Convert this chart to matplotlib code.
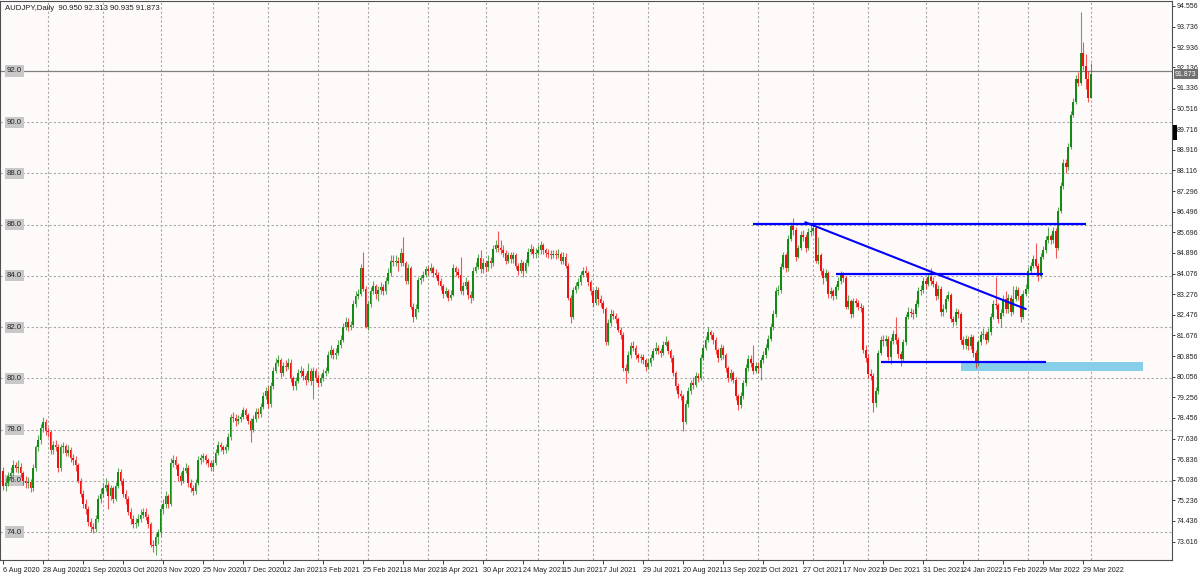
import matplotlib
matplotlib.use('Agg')
import matplotlib.pyplot as plt
import matplotlib.transforms as mtransforms
from matplotlib.patches import Rectangle

plt.rcParams['font.family'] = ['Liberation Sans', 'DejaVu Sans']

TITLE = 'AUDJPY,Daily  90.950 92.313 90.935 91.873'
FIRST_OPEN = 76.40
BID = 91.873

# daily closes, highs, lows, open = previous close
close = [
    75.80, 75.90, 76.20, 76.30, 76.60, 76.50, 76.55, 76.30, 76.00, 75.90,
    75.95, 75.70, 76.50, 77.30, 77.60, 78.05, 78.30, 77.95, 77.90, 77.20,
    77.40, 77.30, 76.50, 77.30, 77.35, 77.10, 77.20, 76.90, 76.80, 76.60,
    76.00, 75.50, 75.10, 74.90, 74.40, 74.20, 74.10, 74.50, 75.30, 75.50,
    75.70, 75.85, 75.40, 75.70, 75.30, 75.80, 76.35, 76.00, 75.50, 75.30,
    74.80, 74.50, 74.30, 74.35, 74.50, 74.65, 74.80, 74.60, 74.30, 73.50,
    73.45, 73.80, 74.00, 74.90, 75.10, 75.40, 75.10, 76.70, 76.80, 76.60,
    76.20, 76.00, 76.40, 76.50, 75.90, 75.70, 75.60, 75.90, 76.80, 76.90,
    76.95, 76.80, 76.70, 76.55, 76.70, 77.10, 77.40, 77.30, 77.20, 77.30,
    77.70, 78.50, 78.45, 78.35, 78.40, 78.50, 78.75, 78.55, 78.35, 78.00,
    78.40, 78.70, 78.60, 78.90, 79.30, 79.50, 79.00, 79.70, 80.30, 80.60,
    80.70, 80.20, 80.50, 80.45, 80.60, 80.00, 79.70, 79.90, 80.20, 80.30,
    80.10, 79.95, 80.30, 79.90, 80.30, 80.00, 79.80, 80.00, 80.20, 80.30,
    80.90, 81.10, 80.90, 81.00, 81.30, 81.50, 82.00, 82.20, 82.00, 82.10,
    82.90, 83.20, 83.30, 84.30, 83.50, 82.00, 82.90, 83.40, 83.60, 83.30,
    83.45, 83.55, 83.40, 83.80, 84.10, 84.60, 84.55, 84.60, 84.50, 84.90,
    84.50, 83.80, 84.30, 82.80, 82.40, 82.70, 83.85, 83.90, 84.05, 84.25,
    84.20, 84.30, 84.10, 84.05, 83.80, 83.60, 83.30, 83.40, 83.15, 83.25,
    84.30, 84.15, 84.05, 83.40, 83.60, 83.75, 83.25, 83.15, 84.20, 84.35,
    84.70, 84.25, 84.50, 84.35, 84.60, 84.50, 85.05, 85.20, 85.10, 85.00,
    84.90, 84.60, 84.80, 84.65, 84.80, 84.40, 84.20, 84.50, 84.20, 84.50,
    84.95, 85.05, 84.85, 84.90, 85.00, 85.20, 85.00, 84.90, 84.85, 84.80,
    84.85, 84.80, 84.85, 84.60, 84.75, 84.40, 83.15, 82.40, 83.45, 83.60,
    83.75, 84.05, 84.20, 84.10, 83.75, 83.40, 82.95, 83.45, 83.10, 82.95,
    82.70, 81.40, 82.15, 82.50, 82.45, 82.30, 81.90, 81.70, 80.40, 80.30,
    80.90, 81.25, 81.20, 80.90, 80.80, 80.85, 80.70, 80.45, 80.60, 80.80,
    81.05, 81.20, 81.05, 81.00, 81.30, 81.40, 81.05, 80.80, 80.20, 79.70,
    79.40, 79.30, 78.30, 79.00, 79.50, 79.80, 79.75, 80.10, 80.00, 80.80,
    81.20, 81.50, 81.80, 81.70, 81.50, 81.10, 80.80, 81.20, 80.90, 80.40,
    80.00, 80.20, 79.95, 79.30, 78.95, 79.30, 79.80, 80.40, 80.75, 80.60,
    80.30, 80.50, 80.40, 80.70, 80.90, 81.20, 81.55, 82.00, 82.50, 83.40,
    83.45, 84.35, 84.80, 84.30, 85.45, 85.95, 85.80, 84.75, 85.10, 85.60,
    85.50, 85.10, 85.70, 85.75, 85.85, 84.60, 84.80, 84.20, 83.90, 84.10,
    83.30, 83.40, 83.20, 83.55, 83.80, 84.05, 83.90, 82.80, 83.00, 82.50,
    83.00, 82.95, 82.80, 82.75, 81.10, 80.80, 80.15, 80.10, 79.05, 79.50,
    81.00, 81.50, 81.45, 81.55, 80.85, 81.45, 81.75, 81.50, 80.95, 80.75,
    81.40, 82.40, 82.60, 82.55, 82.50, 82.90, 83.40, 83.45, 83.80, 83.70,
    83.95, 83.80, 83.70, 83.20, 83.50, 82.60, 82.70, 83.10, 83.25, 82.30,
    82.20, 82.60, 82.50, 81.50, 81.30, 81.55, 81.25, 81.60, 81.00, 80.60,
    81.40, 81.70, 81.75, 81.50, 81.80, 82.40, 82.90, 82.85, 82.30, 82.55,
    83.10, 82.70, 83.15, 82.60, 83.10, 83.45, 83.20, 82.40, 83.30, 83.50,
    84.20, 84.40, 84.65, 84.40, 84.00, 84.75, 85.00, 85.40, 85.55, 85.40,
    85.75, 85.10, 86.55, 87.50, 88.40, 88.25, 89.05, 90.30, 90.80, 91.70,
    91.55, 92.70, 92.20, 91.70, 90.95, 91.873,
]
high = [
    76.55, 76.10, 76.35, 76.55, 76.80, 76.75, 76.80, 76.70, 76.40, 76.20,
    76.15, 76.05, 76.65, 77.40, 77.80, 78.20, 78.50, 78.40, 78.10, 78.00,
    77.55, 77.60, 77.45, 77.45, 77.50, 77.45, 77.40, 77.30, 77.05, 76.95,
    76.70, 76.10, 75.65, 75.30, 75.00, 74.55, 74.35, 74.65, 75.45, 75.70,
    75.90, 76.10, 75.95, 75.85, 75.80, 75.95, 76.50, 76.45, 76.10, 75.65,
    75.40, 74.95, 74.65, 74.55, 74.70, 74.90, 74.95, 74.95, 74.70, 74.40,
    73.70, 73.95, 74.10, 75.00, 75.30, 75.60, 75.50, 76.90, 77.00, 76.95,
    76.70, 76.35, 76.55, 76.70, 76.60, 76.05, 75.85, 76.05, 76.95, 77.05,
    77.10, 77.05, 76.90, 76.80, 76.85, 77.25, 77.55, 77.50, 77.40, 77.45,
    77.85, 78.60, 78.70, 78.60, 78.55, 78.65, 78.90, 78.85, 78.65, 78.45,
    78.55, 78.85, 78.85, 79.05, 79.45, 79.65, 79.70, 79.85, 80.45, 80.80,
    80.90, 80.80, 80.65, 80.70, 80.80, 80.75, 80.10, 80.05, 80.35, 80.50,
    80.40, 80.20, 80.60, 80.40, 80.45, 80.40, 80.15, 80.15, 80.35, 80.45,
    81.05, 81.30, 81.20, 81.20, 81.50, 81.70, 82.15, 82.40, 82.35, 82.25,
    83.05, 83.40, 83.50, 84.45, 84.95, 83.60, 83.00, 83.55, 83.80, 83.70,
    83.60, 83.75, 83.70, 83.95, 84.30, 84.80, 84.80, 84.80, 84.75, 85.10,
    85.50, 84.60, 84.45, 84.40, 82.95, 82.90, 83.95, 84.05, 84.20, 84.40,
    84.40, 84.50, 84.40, 84.25, 84.15, 83.90, 83.70, 83.55, 83.50, 83.45,
    84.45, 84.40, 84.30, 84.75, 83.75, 83.95, 83.85, 83.40, 84.35, 84.55,
    84.85, 85.00, 84.70, 84.60, 84.80, 84.75, 85.20, 85.40, 85.75, 85.40,
    85.20, 85.00, 84.95, 84.95, 84.95, 84.90, 84.50, 84.65, 84.60, 84.65,
    85.10, 85.25, 85.15, 85.10, 85.20, 85.35, 85.30, 85.10, 85.05, 85.00,
    85.00, 85.00, 85.05, 84.95, 84.95, 84.90, 84.50, 83.25, 83.55, 83.75,
    83.90, 84.20, 84.35, 84.40, 84.20, 83.85, 83.50, 83.60, 83.55, 83.25,
    83.05, 82.80, 82.30, 82.70, 82.65, 82.55, 82.40, 82.00, 81.80, 80.55,
    81.05, 81.40, 81.45, 81.30, 81.00, 80.95, 80.95, 80.80, 80.75, 80.95,
    81.20, 81.40, 81.30, 81.20, 81.45, 81.65, 81.50, 81.15, 80.90, 80.30,
    79.80, 79.55, 79.40, 79.15, 79.65, 79.95, 80.05, 80.25, 80.20, 80.95,
    81.35, 81.65, 82.00, 81.90, 81.80, 81.60, 81.20, 81.35, 81.30, 81.00,
    80.50, 80.35, 80.30, 80.05, 79.40, 79.45, 79.95, 80.55, 80.90, 80.90,
    81.30, 80.65, 80.65, 80.85, 81.05, 81.35, 81.70, 82.15, 82.65, 83.55,
    83.65, 84.50, 84.95, 84.90, 85.60, 86.10, 86.25, 85.90, 85.20, 85.75,
    85.80, 85.65, 85.85, 86.05, 86.00, 85.95, 85.50, 84.90, 84.30, 84.25,
    84.20, 83.55, 83.50, 83.70, 83.95, 84.20, 84.15, 84.00, 83.25, 83.10,
    83.15, 83.15, 83.05, 82.95, 82.85, 81.30, 80.95, 80.35, 80.20, 79.65,
    81.10, 81.65, 81.70, 81.70, 81.65, 81.60, 81.90, 82.40, 81.60, 81.05,
    81.55, 82.50, 82.80, 82.75, 82.70, 83.05, 83.55, 83.65, 83.95, 83.90,
    84.10, 84.30, 83.95, 83.80, 83.65, 83.60, 82.90, 83.25, 83.40, 83.35,
    82.45, 82.75, 82.70, 82.60, 81.65, 81.70, 81.65, 81.75, 81.70, 81.10,
    81.50, 81.85, 81.95, 81.85, 81.95, 82.55, 83.05, 83.95, 82.95, 82.70,
    83.25, 83.40, 83.30, 83.25, 83.60, 83.60, 83.55, 83.30, 83.45, 83.70,
    84.35, 84.55, 84.80, 85.30, 84.50, 84.90, 85.15, 85.55, 85.90, 85.65,
    85.90, 85.85, 86.70, 87.65, 88.55, 88.55, 89.20, 90.45, 90.95, 91.85,
    91.95, 94.30, 93.15, 92.65, 92.00, 92.313,
]
low = [
    75.65, 75.60, 75.80, 76.05, 76.20, 76.35, 76.30, 76.15, 75.85, 75.70,
    75.70, 75.55, 75.60, 76.40, 77.15, 77.45, 77.90, 77.80, 77.70, 77.05,
    77.05, 77.15, 76.35, 76.40, 77.10, 76.95, 76.95, 76.75, 76.60, 76.40,
    75.90, 75.35, 74.95, 74.70, 74.25, 74.00, 73.95, 74.00, 74.40, 75.15,
    75.35, 75.60, 74.90, 75.25, 75.15, 75.20, 75.70, 75.85, 75.35, 75.10,
    74.65, 74.30, 74.15, 74.15, 74.25, 74.40, 74.55, 74.45, 74.15, 73.40,
    73.20, 73.10, 73.55, 73.85, 74.70, 74.95, 74.95, 75.00, 76.55, 76.45,
    76.00, 75.85, 75.90, 76.30, 75.75, 75.55, 75.45, 75.50, 75.85, 76.65,
    76.75, 76.65, 76.55, 76.40, 76.40, 76.60, 77.00, 77.15, 77.05, 77.10,
    77.20, 77.60, 78.30, 78.15, 78.20, 78.30, 78.40, 78.40, 78.20, 77.50,
    77.90, 78.30, 78.45, 78.50, 78.80, 79.20, 78.85, 78.90, 79.60, 80.20,
    80.50, 80.05, 80.10, 80.30, 80.35, 79.85, 79.55, 79.55, 79.80, 80.05,
    79.95, 79.75, 79.85, 79.75, 79.20, 79.85, 79.65, 79.70, 79.90, 80.10,
    80.20, 80.80, 80.75, 80.75, 80.90, 81.20, 81.40, 81.90, 81.85, 81.90,
    82.00, 82.80, 83.10, 83.20, 83.40, 81.95, 81.90, 82.80, 83.30, 83.10,
    83.00, 83.30, 83.25, 83.30, 83.70, 84.00, 84.40, 84.40, 84.20, 84.40,
    84.40, 83.70, 83.70, 82.70, 82.20, 82.30, 82.60, 83.70, 83.80, 83.95,
    84.05, 84.10, 83.95, 83.90, 83.65, 83.45, 83.15, 83.20, 83.00, 83.05,
    83.20, 84.00, 83.90, 83.30, 83.25, 83.50, 83.10, 82.95, 83.05, 84.10,
    84.25, 84.10, 84.10, 84.15, 84.20, 84.30, 84.40, 84.95, 84.95, 84.85,
    84.75, 84.45, 84.50, 84.50, 84.50, 84.25, 84.05, 84.10, 83.95, 84.10,
    84.40, 84.85, 84.70, 84.70, 84.80, 84.85, 84.85, 84.75, 84.70, 84.65,
    84.70, 84.65, 84.70, 84.45, 84.45, 84.30, 83.05, 82.15, 82.30, 83.35,
    83.50, 83.65, 83.95, 83.95, 83.60, 83.25, 82.80, 82.85, 82.85, 82.80,
    82.55, 81.30, 81.30, 82.05, 82.30, 82.15, 81.80, 81.55, 80.30, 79.80,
    80.20, 80.80, 81.05, 80.75, 80.65, 80.60, 80.55, 80.30, 80.35, 80.50,
    80.70, 80.95, 80.95, 80.85, 80.90, 81.25, 80.95, 80.65, 80.10, 79.55,
    79.25, 79.15, 77.95, 78.20, 78.90, 79.40, 79.60, 79.65, 79.85, 79.95,
    80.70, 81.10, 81.40, 81.55, 81.35, 80.95, 80.65, 80.70, 80.75, 80.25,
    79.85, 79.90, 79.80, 79.15, 78.75, 78.85, 79.20, 79.70, 80.30, 80.45,
    80.15, 80.20, 80.20, 79.95, 80.60, 80.80, 81.10, 81.45, 81.90, 82.40,
    83.25, 83.35, 84.25, 84.15, 84.20, 85.35, 85.60, 84.60, 84.70, 85.00,
    85.35, 84.95, 85.00, 85.55, 85.65, 84.50, 84.45, 84.05, 83.70, 83.80,
    83.15, 83.15, 83.05, 83.10, 83.45, 83.70, 83.75, 82.70, 82.70, 82.35,
    82.40, 82.80, 82.65, 82.60, 81.00, 80.65, 80.00, 79.95, 78.70, 78.90,
    79.40, 80.90, 81.25, 81.25, 80.70, 80.55, 81.35, 81.35, 80.80, 80.50,
    80.65, 81.30, 82.30, 82.40, 82.30, 82.40, 82.80, 83.25, 83.35, 83.50,
    83.60, 83.65, 83.55, 83.05, 83.10, 82.45, 82.45, 82.60, 83.00, 82.20,
    82.05, 82.10, 82.35, 81.35, 81.15, 81.15, 81.10, 81.15, 80.85, 80.40,
    80.50, 81.30, 81.55, 81.35, 81.40, 81.70, 82.30, 82.70, 82.15, 82.00,
    82.45, 82.55, 82.55, 82.45, 82.50, 83.00, 83.05, 82.20, 82.30, 83.20,
    83.40, 84.10, 84.30, 84.30, 83.80, 83.90, 84.65, 84.90, 85.30, 85.25,
    85.30, 84.70, 85.00, 86.45, 87.40, 88.00, 88.15, 88.95, 90.20, 90.70,
    91.40, 91.45, 92.05, 91.30, 90.80, 90.935,
]

# axis texts
date_labels = ['6 Aug 2020', '28 Aug 2020', '21 Sep 2020', '13 Oct 2020', '3 Nov 2020',
               '25 Nov 2020', '17 Dec 2020', '12 Jan 2021', '3 Feb 2021', '25 Feb 2021',
               '18 Mar 2021', '8 Apr 2021', '30 Apr 2021', '24 May 2021', '15 Jun 2021',
               '7 Jul 2021', '29 Jul 2021', '20 Aug 2021', '13 Sep 2021', '5 Oct 2021',
               '27 Oct 2021', '17 Nov 2021', '9 Dec 2021', '31 Dec 2021', '24 Jan 2022',
               '15 Feb 2022', '9 Mar 2022', '29 Mar 2022']
LABEL_STEP = 16
month_start_bars = [18, 40, 63, 84, 106, 126, 146, 170, 193, 214, 236, 258, 280,
                    302, 324, 346, 369, 390, 410, 435]
price_ticks = [94.556, 93.736, 92.936, 92.136, 91.336, 90.516, 89.716, 88.916, 88.116,
               87.296, 86.496, 85.696, 84.896, 84.076, 83.276, 82.476, 81.676, 80.856,
               80.056, 79.256, 78.456, 77.636, 76.836, 76.036, 75.236, 74.436, 73.616]
levels = [74.0, 76.0, 78.0, 80.0, 82.0, 84.0, 86.0, 88.0, 90.0, 92.0]

# drawn objects: (price, first bar, last bar)
blue_levels = [(86.02, 300, 433), (84.07, 333, 416), (80.64, 351, 417)]
trend_start = (321, 86.09)
trend_end = (409, 82.71)
zone = (383, 456, 80.29, 80.64)

UP = '#168a16'
DOWN = '#f01010'
FS = 5.6
FS_SMALL = 5.0

fig = plt.figure(figsize=(12, 5.78), dpi=100)
ax = fig.add_axes([0.0, 0.0311, 0.9767, 0.9672])
ax.set_facecolor('#fffafa')
ax.set_xlim(-1.2, 467.6)
ax.set_ylim(72.906, 94.733)

# grid
ax.vlines(month_start_bars, 72.906, 94.733, colors='#a8a8a8', linewidth=0.8,
          linestyles=(0, (2, 2)), zorder=1)
for lv in levels:
    if lv == 92.0:
        ax.axhline(lv, color='#808080', linewidth=0.9, zorder=1)
    else:
        ax.axhline(lv, color='#a8a8a8', linewidth=0.8, linestyle=(0, (2, 2)), zorder=1)

trans = mtransforms.blended_transform_factory(ax.transAxes, ax.transData)
for lv in levels:
    ax.text(0.006, lv, f'{lv:.1f}', transform=trans, fontsize=FS, va='center',
            ha='left', color='#202020', zorder=2,
            bbox=dict(facecolor='#c8c8c8', edgecolor='none', pad=1.5))

# candles
opens = [FIRST_OPEN] + close[:-1]
xs = list(range(len(close)))
colors = [UP if c >= o else DOWN for o, c in zip(opens, close)]
ax.vlines(xs, low, high, colors=colors, linewidth=0.8, alpha=0.7, zorder=3)
bottoms = [min(o, c) for o, c in zip(opens, close)]
heights = [max(abs(c - o), 0.03) for o, c in zip(opens, close)]
ax.bar(xs, heights, bottom=bottoms, width=0.78, color=colors, linewidth=0, zorder=4)

# objects
for price, x0, x1 in blue_levels:
    ax.hlines(price, x0, x1, colors='#0000ff', linewidth=1.6, zorder=5)
ax.plot([trend_start[0], trend_end[0]], [trend_start[1], trend_end[1]],
        color='#0000ff', linewidth=1.5, zorder=5)
ax.add_patch(Rectangle((zone[0], zone[2]), zone[1] - zone[0], zone[3] - zone[2],
                       facecolor='#87ceeb', edgecolor='none', zorder=2))

# axes
ax.yaxis.tick_right()
ax.set_yticks(price_ticks)
ax.set_yticklabels([f'{p:.3f}' for p in price_ticks])
ax.tick_params(axis='y', labelsize=FS_SMALL, length=2, width=0.6, pad=1.5, colors='#202020')
ax.set_xticks([LABEL_STEP * k for k in range(len(date_labels))])
ax.set_xticklabels(date_labels)
for lab in ax.get_xticklabels():
    lab.set_horizontalalignment('left')
ax.tick_params(axis='x', labelsize=5.2, length=3, width=0.6, pad=2, colors='#202020')
for side in ['top', 'right', 'bottom', 'left']:
    ax.spines[side].set_color('#505050')
    ax.spines[side].set_linewidth(0.8)

ax.text(0.004, 0.993, TITLE, transform=ax.transAxes, fontsize=FS, va='top',
        ha='left', color='#202020')

# bid label and marker on the price scale
fig.text(0.9792, ax.transLimits.transform((0, BID))[1] * 0.9672 + 0.0311,
         f'{BID:.3f}', fontsize=FS_SMALL, color='white', va='center', ha='left',
         bbox=dict(facecolor='#707070', edgecolor='none', pad=1.0))
fig.patches.append(Rectangle((1173 / 1200, 1 - 140 / 578), 4 / 1200, 15 / 578,
                             transform=fig.transFigure, facecolor='black',
                             edgecolor='none'))

fig.savefig('out.png', dpi=100, facecolor='white')
